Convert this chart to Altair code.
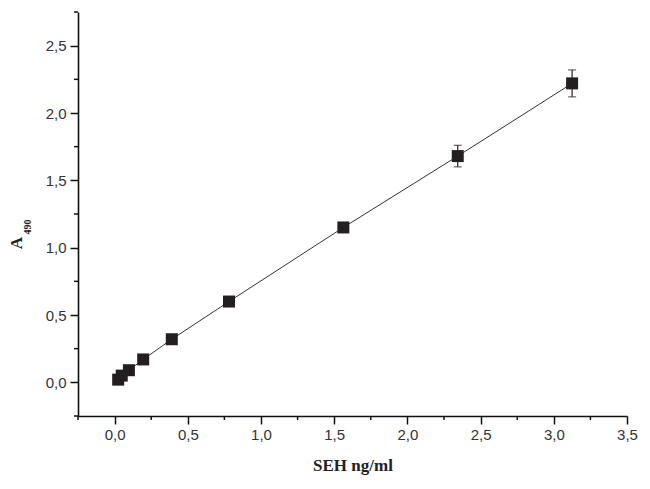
import altair as alt
import pandas as pd

# Data
conc = [0.0244, 0.0488, 0.0977, 0.1953, 0.3906, 0.7813, 1.5625, 2.3438, 3.125]
absorb = [0.02, 0.05, 0.09, 0.17, 0.32, 0.60, 1.15, 1.68, 2.22]
err = [0, 0, 0, 0, 0, 0, 0, 0.08, 0.10]

x_major = [0.0, 0.5, 1.0, 1.5, 2.0, 2.5, 3.0, 3.5]
x_minor = [-0.25, 0.25, 0.75, 1.25, 1.75, 2.25, 2.75, 3.25]
y_major = [0.0, 0.5, 1.0, 1.5, 2.0, 2.5]
y_minor = [-0.25, 0.25, 0.75, 1.25, 1.75, 2.25, 2.75]

df = pd.DataFrame({"c": conc, "a": absorb, "e": err})
df["lo"] = df["a"] - df["e"]
df["hi"] = df["a"] + df["e"]
df_err = df[df["e"] > 0]

label_expr = "replace(format(datum.value, '.1f'), '.', ',')"

xs = alt.Scale(domain=[-0.25, 3.5], nice=False, zero=False)
ys = alt.Scale(domain=[-0.25, 2.75], nice=False, zero=False)

x_axis = alt.Axis(values=x_major, labelExpr=label_expr, tickSize=8,
                  title="SEH ng/ml", titleFont="Liberation Serif", titleFontWeight="bold",
                  titleFontSize=17, titleColor="#222", titlePadding=15, labelPadding=3,
                  labelFlush=False, labelOverlap=False)
y_axis = alt.Axis(values=y_major, labelExpr=label_expr, tickSize=8,
                  title=None, labelPadding=4, labelFlush=False, labelOverlap=False)

base = alt.Chart(df)

line = base.mark_line(color="#333", strokeWidth=1).encode(
    x=alt.X("c:Q", scale=xs, axis=x_axis),
    y=alt.Y("a:Q", scale=ys, axis=y_axis),
)

# minor ticks
xm = alt.Chart(pd.DataFrame({"v": x_minor})).mark_rule(color="#111", strokeWidth=1.5).encode(
    x="v:Q", y=alt.value(404), y2=alt.value(408)
)
ym = alt.Chart(pd.DataFrame({"v": y_minor})).mark_rule(color="#111", strokeWidth=1.5).encode(
    y="v:Q", x=alt.value(0), x2=alt.value(-4)
)

bars = alt.Chart(df_err).mark_rule(color="#222", strokeWidth=1.2).encode(
    x="c:Q", y="lo:Q", y2="hi:Q"
)
caps_hi = alt.Chart(df_err).mark_tick(color="#222", size=8, thickness=1.2, orient="horizontal").encode(
    x="c:Q", y="hi:Q"
)
caps_lo = alt.Chart(df_err).mark_tick(color="#222", size=8, thickness=1.2, orient="horizontal").encode(
    x="c:Q", y="lo:Q"
)

pts = base.mark_square(color="#231f20", size=144, opacity=1).encode(
    x="c:Q", y="a:Q"
)

ttl = pd.DataFrame({"t": ["A"]})
ttl_sub = pd.DataFrame({"t": ["490"]})
a_text = alt.Chart(ttl).mark_text(angle=270, font="Liberation Serif", fontWeight="bold",
                                  fontSize=17, color="#222", align="center", baseline="middle").encode(
    x=alt.value(-61), y=alt.value(231), text="t:N"
)
sub_text = alt.Chart(ttl_sub).mark_text(angle=270, font="Liberation Serif", fontWeight="bold",
                                        fontSize=10, color="#222", align="center", baseline="middle").encode(
    x=alt.value(-50), y=alt.value(215), text="t:N"
)

chart = alt.layer(line, xm, ym, bars, caps_hi, caps_lo, pts, a_text, sub_text).properties(
    width=549, height=404,
    autosize=alt.AutoSizeParams(type="none"),
    padding={"left": 70, "top": 4, "right": 15, "bottom": 61},
    background="white",
).configure_view(stroke=None).configure_axis(
    grid=False, domainColor="#111", domainWidth=1.6, tickColor="#111", tickWidth=1.5,
    labelFont="Liberation Sans", labelFontSize=15, labelColor="#333",
)

chart.save("out.html", embed_options={"renderer": "svg", "actions": False})
